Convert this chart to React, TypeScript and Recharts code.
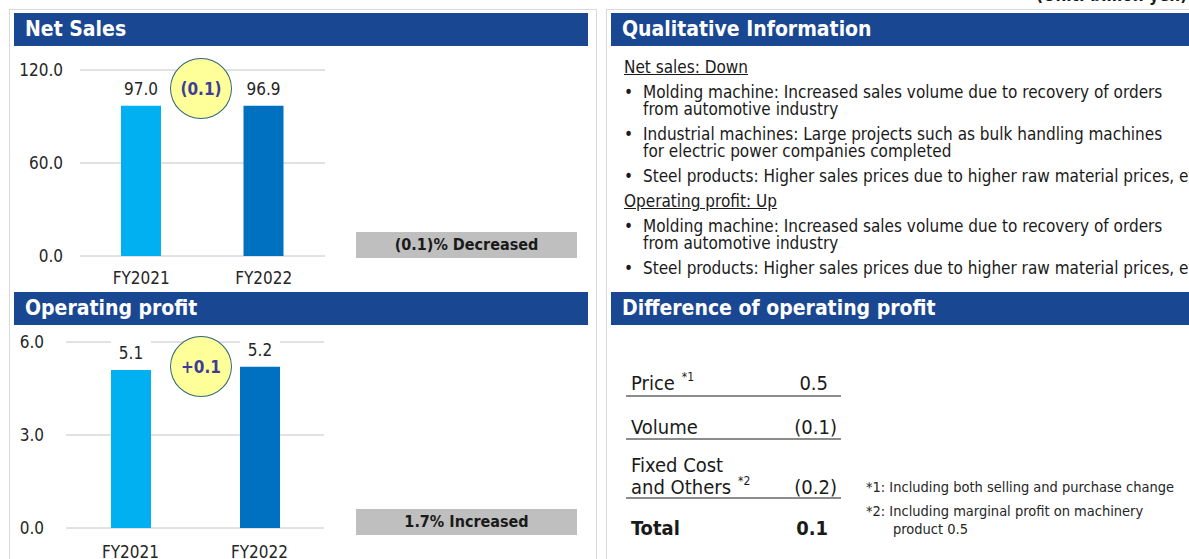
import { Bar, BarChart, CartesianGrid, Cell, LabelList, XAxis, YAxis } from "recharts";

const years = ["FY2021", "FY2022"];
const netSales = [97.0, 96.9];
const operatingProfit = [5.1, 5.2];
const netSalesTicks = [0, 60, 120];
const profitTicks = [0, 3, 6];
const barColors = ["#00b0f0", "#0070c0"];

const netSalesDiff = "(0.1)";
const profitDiff = "+0.1";
const netSalesRate = "(0.1)% Decreased";
const profitRate = "1.7% Increased";

const diffLabels = ["Price", "Volume", "Fixed Cost|and Others", "Total"];
const diffNotes = ["*1", "", "*2", ""];
const diffValues = ["0.5", "(0.1)", "(0.2)", "0.1"];

const footnotes = [
  "*1: Including both selling and purchase change",
  "*2: Including marginal profit on machinery|product 0.5"
];

const qualitative = [
  { head: "Net sales: Down" },
  { bullet: "Molding machine: Increased sales volume due to recovery of orders|from automotive industry" },
  { bullet: "Industrial machines: Large projects such as bulk handling machines|for electric power companies completed" },
  { bullet: "Steel products: Higher sales prices due to higher raw material prices, etc." },
  { head: "Operating profit: Up" },
  { bullet: "Molding machine: Increased sales volume due to recovery of orders|from automotive industry" },
  { bullet: "Steel products: Higher sales prices due to higher raw material prices, etc." }
];

const FONT = "'DejaVu Sans Condensed', 'DejaVu Sans', sans-serif";
const HEADER_BLUE = "#1a4791";

function ValueLabel(props: any) {
  const { x, y, width, value } = props;
  return (
    <g>
      <rect x={x} y={y - 31} width={width} height={22} fill="#ffffff" />
      <text x={x + width / 2} y={y - 11} textAnchor="middle" fontSize={17} fill="#262626">
        {Number(value).toFixed(1)}
      </text>
    </g>
  );
}

function YearChart({
  values,
  ticks,
  left,
  top,
  width,
  height,
  margin,
  yWidth,
  yTickMargin,
  xTickMargin
}: {
  values: number[];
  ticks: number[];
  left: number;
  top: number;
  width: number;
  height: number;
  margin: { top: number; right: number; bottom: number; left: number };
  yWidth: number;
  yTickMargin: number;
  xTickMargin: number;
}) {
  const data = years.map((year, i) => ({ year, value: values[i] }));
  return (
    <div style={{ position: "absolute", left, top }}>
      <BarChart width={width} height={height} data={data} margin={margin}>
        <CartesianGrid stroke="#c4c4c4" vertical={false} />
        <XAxis
          dataKey="year"
          tick={{ fill: "#262626", fontSize: 17 }}
          tickLine={false}
          axisLine={false}
          height={30}
          tickMargin={xTickMargin}
        />
        <YAxis
          domain={[ticks[0], ticks[ticks.length - 1]]}
          ticks={ticks}
          interval={0}
          tick={{ fill: "#262626", fontSize: 17 }}
          tickLine={false}
          axisLine={false}
          width={yWidth}
          tickMargin={yTickMargin}
          tickFormatter={(v: number) => v.toFixed(1)}
        />
        <Bar dataKey="value" barSize={40} isAnimationActive={false}>
          {data.map((d, i) => (
            <Cell key={d.year} fill={barColors[i]} />
          ))}
          <LabelList dataKey="value" content={<ValueLabel />} />
        </Bar>
      </BarChart>
    </div>
  );
}

function Header({ left, top, width, title }: { left: number; top: number; width: number; title: string }) {
  return (
    <div
      style={{
        position: "absolute",
        left,
        top,
        width,
        height: 33,
        background: HEADER_BLUE,
        color: "#fff",
        fontWeight: "bold",
        fontSize: 21,
        lineHeight: "33px",
        paddingLeft: 11,
        boxSizing: "border-box",
        whiteSpace: "nowrap"
      }}
    >
      {title}
    </div>
  );
}

function DiffBubble({ left, top, text }: { left: number; top: number; text: string }) {
  return (
    <div
      style={{
        position: "absolute",
        left,
        top,
        width: 62,
        height: 61,
        borderRadius: "50%",
        border: "1.5px solid #2d6878",
        background: "#ffff99",
        boxSizing: "border-box",
        display: "flex",
        alignItems: "center",
        justifyContent: "center",
        color: "#3f3c98",
        fontWeight: "bold",
        fontSize: 17
      }}
    >
      {text}
    </div>
  );
}

function RateBox({ top, text }: { top: number; text: string }) {
  return (
    <div
      style={{
        position: "absolute",
        left: 356,
        top,
        width: 221,
        height: 26,
        background: "#bfbfbf",
        color: "#1a1a1a",
        fontWeight: "bold",
        fontSize: 16,
        lineHeight: "26px",
        textAlign: "center"
      }}
    >
      {text}
    </div>
  );
}

export default function App() {
  const rowTops = [370, 414, 452, 515];
  const lineTops = [395, 438, 497];
  return (
    <div
      style={{
        position: "absolute",
        left: 0,
        top: 0,
        width: 1189,
        height: 559,
        overflow: "hidden",
        background: "#fff",
        fontFamily: FONT,
        color: "#1a1a1a"
      }}
    >
      <div style={{ position: "absolute", left: 1036, top: -15, fontSize: 17, fontWeight: "bold", whiteSpace: "nowrap" }}>
        (Unit: billion yen)
      </div>

      <div style={{ position: "absolute", left: 9, top: 9, width: 588, height: 600, border: "1px solid #d9d9d9", boxSizing: "border-box" }} />
      <div style={{ position: "absolute", left: 606, top: 9, width: 640, height: 600, border: "1px solid #d9d9d9", boxSizing: "border-box" }} />

      <Header left={14} top={13} width={574} title="Net Sales" />
      <Header left={14} top={292} width={574} title="Operating profit" />
      <Header left={611} top={13} width={600} title="Qualitative Information" />
      <Header left={611} top={292} width={600} title="Difference of operating profit" />

      <YearChart
        values={netSales}
        ticks={netSalesTicks}
        left={0}
        top={50}
        width={340}
        height={250}
        margin={{ top: 20, right: 15, bottom: 14, left: 20 }}
        yWidth={60}
        yTickMargin={11}
        xTickMargin={10}
      />
      <DiffBubble left={170} top={58} text={netSalesDiff} />
      <RateBox top={232} text={netSalesRate} />

      <YearChart
        values={operatingProfit}
        ticks={profitTicks}
        left={0}
        top={320}
        width={340}
        height={239}
        margin={{ top: 22, right: 16, bottom: 1, left: 16 }}
        yWidth={50}
        yTickMargin={16}
        xTickMargin={12}
      />
      <DiffBubble left={170} top={336} text={profitDiff} />
      <RateBox top={509} text={profitRate} />

      <div style={{ position: "absolute", left: 624, top: 59, width: 600, fontSize: 17, lineHeight: "17px" }}>
        {qualitative.map((q, i) =>
          q.head ? (
            <div key={i} style={{ textDecoration: "underline", marginBottom: 8, whiteSpace: "nowrap" }}>
              {q.head}
            </div>
          ) : (
            <div key={i} style={{ position: "relative", paddingLeft: 19, marginBottom: 8 }}>
              <span style={{ position: "absolute", left: 0, top: 0 }}>•</span>
              {(q.bullet as string).split("|").map((line, j) => (
                <div key={j} style={{ whiteSpace: "nowrap" }}>
                  {line}
                </div>
              ))}
            </div>
          )
        )}
      </div>

      {diffLabels.map((label, i) => {
        const lines = label.split("|");
        const bold = i === diffLabels.length - 1;
        const lastTop = rowTops[i] + (lines.length - 1) * 22;
        return (
          <div key={label}>
            {lines.map((line, j) => (
              <div
                key={j}
                style={{
                  position: "absolute",
                  left: 631,
                  top: rowTops[i] + j * 22,
                  fontSize: 20,
                  lineHeight: "26px",
                  height: 26,
                  fontWeight: bold ? "bold" : "normal",
                  whiteSpace: "nowrap"
                }}
              >
                {line}
                {j === lines.length - 1 && diffNotes[i] ? (
                  <span style={{ position: "relative", top: -9, fontSize: 12, marginLeft: 7 }}>{diffNotes[i]}</span>
                ) : null}
              </div>
            ))}
            <div
              style={{
                position: "absolute",
                left: 700,
                width: diffValues[i].startsWith("(") ? 137 : 128,
                top: lastTop,
                fontSize: 20,
                lineHeight: "26px",
                textAlign: "right",
                fontWeight: bold ? "bold" : "normal"
              }}
            >
              {diffValues[i]}
            </div>
          </div>
        );
      })}
      {lineTops.map((t) => (
        <div key={t} style={{ position: "absolute", left: 626, top: t, width: 215, height: 2, background: "#8c8c8c" }} />
      ))}

      <div style={{ position: "absolute", left: 866, top: 478, fontSize: 14.5, lineHeight: "18px", color: "#262626" }}>
        {footnotes.map((f, i) => (
          <div key={i} style={{ marginBottom: 6 }}>
            {f.split("|").map((line, j) => (
              <div key={j} style={{ whiteSpace: "nowrap", paddingLeft: j > 0 ? 27 : 0 }}>
                {line}
              </div>
            ))}
          </div>
        ))}
      </div>
    </div>
  );
}
